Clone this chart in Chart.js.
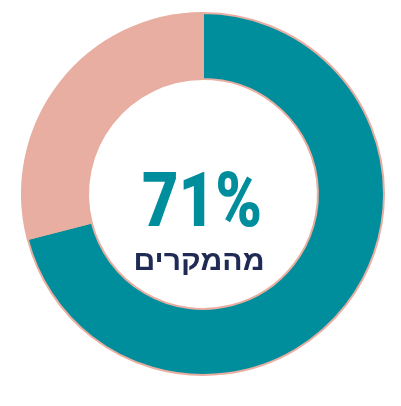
<!DOCTYPE html>
<html>
<head>
<meta charset="utf-8">
<script src="https://cdn.jsdelivr.net/npm/chart.js@4"></script>
<style>
html,body{margin:0;padding:0;background:#fff;}
#wrap{width:401px;height:406px;}
</style>
</head>
<body>
<div id="wrap"><canvas id="c" width="401" height="406"></canvas></div>
<script>
const categories = ["מהמקרים", "אחר"];
const values = [71, 29];
const colors = ["#008E9D", "#E8AEA1"];
const centerValue = "71%";
const centerLabel = "מהמקרים";

const centerText = {
  id: "centerText",
  afterDraw(chart) {
    const ctx = chart.ctx;
    const arc = chart.getDatasetMeta(0).data[0];
    const cx = arc.x, cy = arc.y;
    function draw(text, font, color, x, baseline, targetW) {
      ctx.save();
      ctx.font = font;
      ctx.fillStyle = color;
      ctx.textAlign = "center";
      ctx.textBaseline = "alphabetic";
      const w = ctx.measureText(text).width;
      const s = targetW / w;
      ctx.translate(x, baseline);
      ctx.scale(s, 1);
      ctx.fillText(text, 0, 0);
      ctx.restore();
    }
    draw(centerValue, "900 76px Roboto", colors[0], cx - 1, cy + 32, 120);
    ctx.save();
    ctx.direction = "rtl";
    draw(centerLabel, "bold 28px 'Liberation Sans'", "#1F2A55", cx - 4, cy + 76, 131);
    ctx.restore();
  }
};

new Chart(document.getElementById("c"), {
  type: "doughnut",
  data: {
    labels: categories,
    datasets: [{
      data: values,
      backgroundColor: colors,
      borderColor: [colors[1], colors[1]],
      borderWidth: 2
    }]
  },
  options: {
    responsive: false,
    animation: false,
    cutout: "63.5%",
    layout: { padding: { left: 21, top: 12, right: 16, bottom: 30 } },
    plugins: { legend: { display: false }, tooltip: { enabled: false } }
  },
  plugins: [centerText]
});
</script>
</body>
</html>
